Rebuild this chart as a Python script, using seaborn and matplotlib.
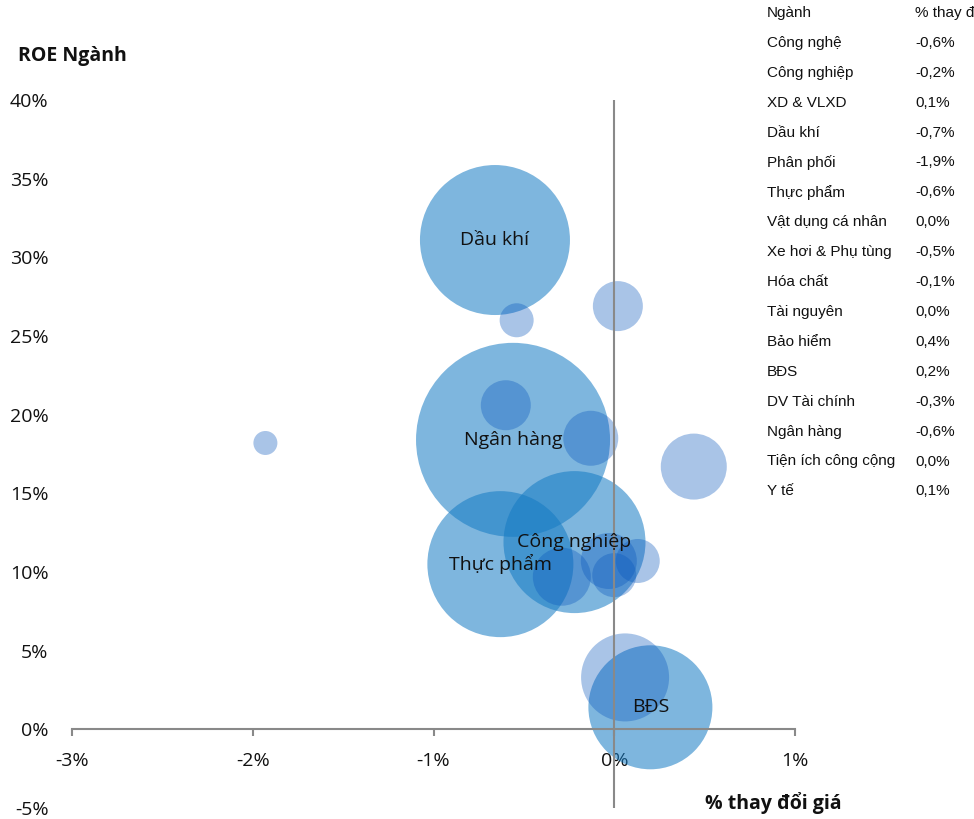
import matplotlib
matplotlib.use("Agg")
import matplotlib.pyplot as plt
import seaborn as sns
import pandas as pd
from matplotlib.ticker import FuncFormatter, MultipleLocator

# Ngành, % thay đổi giá, ROE ngành và quy mô (độ lớn bong bóng)
nganh = ["Công nghệ", "Công nghiệp", "XD & VLXD", "Dầu khí", "Phân phối",
         "Thực phẩm", "Vật dụng cá nhân", "Xe hơi & Phụ tùng", "Hóa chất",
         "Tài nguyên", "Bảo hiểm", "BĐS", "DV Tài chính", "Ngân hàng",
         "Tiện ích công cộng", "Y tế"]
thay_doi_gia = [-0.60, -0.22, 0.13, -0.66, -1.93, -0.63, 0.00, -0.54, -0.13,
                0.02, 0.44, 0.20, -0.29, -0.56, -0.03, 0.06]
roe = [20.6, 11.9, 10.7, 31.1, 18.2, 10.5, 9.8, 26.0, 18.5,
       26.9, 16.7, 1.4, 9.7, 18.4, 10.7, 3.3]
quy_mo = [625, 5041, 484, 5625, 144, 5329, 484, 289, 756,
          625, 1089, 3844, 841, 9409, 784, 1936]
nganh_co_nhan = ["Dầu khí", "Ngân hàng", "Thực phẩm", "Công nghiệp", "BĐS"]

x_ticks = [-3, -2, -1, 0, 1]
y_ticks = [-5, 0, 5, 10, 15, 20, 25, 30, 35, 40]

df = pd.DataFrame({"nganh": nganh, "gia": thay_doi_gia, "roe": roe, "quy_mo": quy_mo})
df["noi_bat"] = df["nganh"].isin(nganh_co_nhan)

sns.set_theme(style="white")
plt.rcParams["font.family"] = ["Open Sans", "DejaVu Sans"]

W, H, DPI = 974, 819, 100
fig = plt.figure(figsize=(W / DPI, H / DPI), dpi=DPI)
ax = fig.add_axes([72 / W, (H - 808) / H, (795 - 72) / W, (808 - 100) / H])

GRAY = "#898989"
qm_max = max(quy_mo)
# diện tích marker (pt^2) tỉ lệ với quy mô
s_max = (2 * 0.72) ** 2 * qm_max

sns.scatterplot(data=df[df["noi_bat"]], x="gia", y="roe", size="quy_mo",
                sizes=(0, s_max), size_norm=(0, qm_max), color="#147ac3",
                alpha=0.55, linewidth=0, legend=False, ax=ax, zorder=3,
                clip_on=False)
sns.scatterplot(data=df[~df["noi_bat"]], x="gia", y="roe", size="quy_mo",
                sizes=(0, s_max), size_norm=(0, qm_max), color="#0956bd",
                alpha=0.35, linewidth=0, legend=False, ax=ax, zorder=3,
                clip_on=False)

for _, r in df[df["noi_bat"]].iterrows():
    ax.text(r["gia"], r["roe"], r["nganh"], ha="center", va="center",
            fontsize=14, color="#111111", zorder=5)

ax.set_xlim(-3, 1)
ax.set_ylim(-5, 40)
ax.set_xticks(x_ticks)
ax.set_yticks(y_ticks)
pct = FuncFormatter(lambda v, _: f"{v:.0f}%")
ax.xaxis.set_major_formatter(pct)
ax.yaxis.set_major_formatter(pct)
ax.set_xlabel("")
ax.set_ylabel("")

for side in ["top", "right", "left"]:
    ax.spines[side].set_visible(False)
ax.spines["bottom"].set_position(("data", 0))
ax.spines["bottom"].set_color(GRAY)
ax.spines["bottom"].set_linewidth(1.5)
ax.spines["bottom"].set_zorder(4)
ax.axvline(0, color=GRAY, linewidth=1.5, zorder=4)

ax.tick_params(axis="x", direction="out", length=5, width=1.5, color=GRAY,
               pad=11, labelsize=14, labelcolor="#111111", bottom=True)
ax.tick_params(axis="y", length=0, pad=17, labelsize=14, labelcolor="#111111")
ax.patch.set_alpha(0)

fig.text(18 / W, 1 - 56 / H, "ROE Ngành", fontsize=14, fontweight="bold",
         va="center", ha="left", color="#111111")
fig.text(705 / W, 1 - 803 / H, "% thay đổi giá", fontsize=14, fontweight="bold",
         va="center", ha="left", color="#111111")

# bảng % thay đổi giá theo ngành
tbl_font = dict(fontsize=11, family=["Liberation Sans", "DejaVu Sans"],
                va="center", ha="left", color="#111111")
row0, step = 13, 29.9
fig.text(767 / W, 1 - row0 / H, "Ngành", **tbl_font)
fig.text(915 / W, 1 - row0 / H, "% thay đổi", **tbl_font)
for i, (n, g) in enumerate(zip(nganh, thay_doi_gia), start=1):
    y = row0 + step * i
    fig.text(767 / W, 1 - y / H, n, **tbl_font)
    val = f"{round(g, 1) + 0.0:.1f}%".replace(".", ",")
    fig.text(915 / W, 1 - y / H, val, **tbl_font)

fig.savefig("out.png", dpi=DPI)
